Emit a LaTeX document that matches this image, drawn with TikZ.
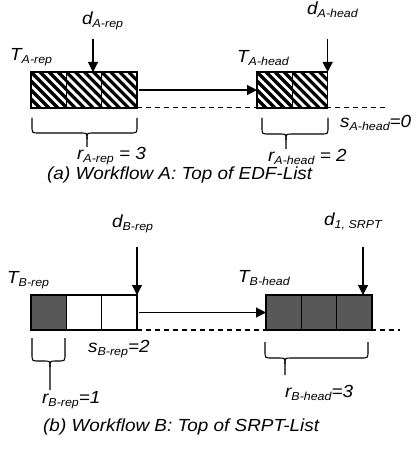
\documentclass[tikz,border=0pt]{standalone}
\usepackage{fontspec}
\setmainfont{Liberation Sans}[FakeStretch=1.08]
\usetikzlibrary{arrows.meta}
\definecolor{cellgray}{RGB}{88,88,88}
\newcommand\mainsz{\fontsize{17.5}{18}\selectfont\itshape}
\newcommand\subt[1]{\raisebox{-3pt}{\fontsize{11.5}{12}\selectfont\itshape #1}}
\newcommand\lbl[2]{{\mainsz #1}\subt{#2}}
\newcommand\mybrace[6]{% x1, x2, top, mid, tipx, bottom
  \draw[bracestyle] (#1,#3) -- (#1,#4-7) .. controls (#1,#4) .. (#1+7,#4) -- (#5-6,#4) .. controls (#5,#4) .. (#5,#4+6) -- (#5,#6);
  \draw[bracestyle] (#2,#3) -- (#2,#4-7) .. controls (#2,#4) .. (#2-7,#4) -- (#5+6,#4) .. controls (#5,#4) .. (#5,#4+6);
}
\begin{document}
\begin{tikzpicture}[x=1pt,y=-1pt,
  cellbox/.style={draw, fill=white, line width=1.2pt, minimum width=35.33pt, minimum height=36pt, inner sep=0pt, outer sep=0pt, anchor=north west},
  cellboxb/.style={cellbox, minimum height=35pt},
  hatch/.style={path picture={\foreach \i in {-5,...,5}{\draw[line width=3.2pt] ([xshift=\i*9pt]path picture bounding box.north west) -- ++(45pt,-45pt);}}},
  darkcell/.style={fill=cellgray},
  txt/.style={inner sep=0pt, anchor=base west},
  arr/.style={-{Triangle[width=10pt,length=10pt]}, line width=1.1pt},
  dashline/.style={line width=1.1pt, dash pattern=on 5pt off 4pt},
  bracestyle/.style={line width=1.1pt}]
\useasboundingbox (0,0) rectangle (415,457);
% ---------- panel A ----------
\coordinate (ae) at (388,107.7);
\coordinate (astart) at (137,107.7);
\draw[dashline] (astart) -- (ae);
\node[cellbox,hatch] (a1) at (31,72) {};
\node[cellbox,hatch] (a2) at (66.33,72) {};
\node[cellbox,hatch] (a3) at (101.67,72) {};
\node[cellbox,hatch] (h1) at (257,72) {};
\node[cellbox,hatch] (h2) at (292.33,72) {};
\coordinate (dart) at (93,39);
\draw[arr] (dart) -- (dart |- a2.north);
\coordinate (daht) at (327.67,39);
\draw[arr] (daht) -- (daht |- h2.north);
\draw[arr] ([xshift=2pt]a3.east) -- (h1.west);
\node[txt] (tar) at (10,61) {\lbl{T}{A-rep}};
\node[txt] (dar) at (82,25) {\lbl{d}{A-rep}};
\node[txt] (tah) at (237,63) {\lbl{T}{A-head}};
\node[txt] (dah) at (307,15) {\lbl{d}{A-head}};
\node[txt] (sah) at (340,128) {\lbl{s}{A-head}{\mainsz =0}};
\node[txt] (rar) at (77,160) {\lbl{r}{A-rep}{\mainsz\ = 3}};
\node[txt] (rah) at (268,161) {\lbl{r}{A-head}{\mainsz\ = 2}};
\node[txt] (capa) at (47,179) {\mainsz (a) Workflow A: Top of EDF-List};
\mybrace{32}{137}{118}{133}{87}{147}
\mybrace{262}{328}{118}{134}{286}{149}
% ---------- panel B ----------
\coordinate (be) at (400,330);
\coordinate (bstart) at (137,330);
\draw[dashline] (bstart) -- (be);
\node[cellboxb,darkcell] (b1) at (31,295) {};
\node[cellboxb] (b2) at (66.33,295) {};
\node[cellboxb] (b3) at (101.67,295) {};
\node[cellboxb,darkcell] (bh1) at (266,295) {};
\node[cellboxb,darkcell] (bh2) at (301.33,295) {};
\node[cellboxb,darkcell] (bh3) at (336.67,295) {};
\coordinate (dbrt) at (137,247);
\draw[arr] (dbrt) -- (dbrt |- b3.north);
\coordinate (d1st) at (363,247);
\draw[arr] (d1st) -- (d1st |- bh3.north);
\draw[arr] ([xshift=2pt]b3.east) -- (bh1.west);
\node[txt] (tbr) at (7,283) {\lbl{T}{B-rep}};
\node[txt] (dbr) at (112,227) {\lbl{d}{B-rep}};
\node[txt] (tbh) at (238,282) {\lbl{T}{B-head}};
\node[txt] (d1s) at (324,225) {\lbl{d}{1, SRPT}};
\node[txt] (sbr) at (88,352) {\lbl{s}{B-rep}{\mainsz =2}};
\node[txt] (rbr) at (42,403) {\lbl{r}{B-rep}{\mainsz =1}};
\node[txt] (rbh) at (285,397) {\lbl{r}{B-head}{\mainsz =3}};
\node[txt] (capb) at (43,431) {\mainsz (b) Workflow B: Top of SRPT-List};
\mybrace{32}{65}{338}{361}{50}{390}
\mybrace{265}{368}{342}{358}{285}{375}
\end{tikzpicture}
\end{document}
